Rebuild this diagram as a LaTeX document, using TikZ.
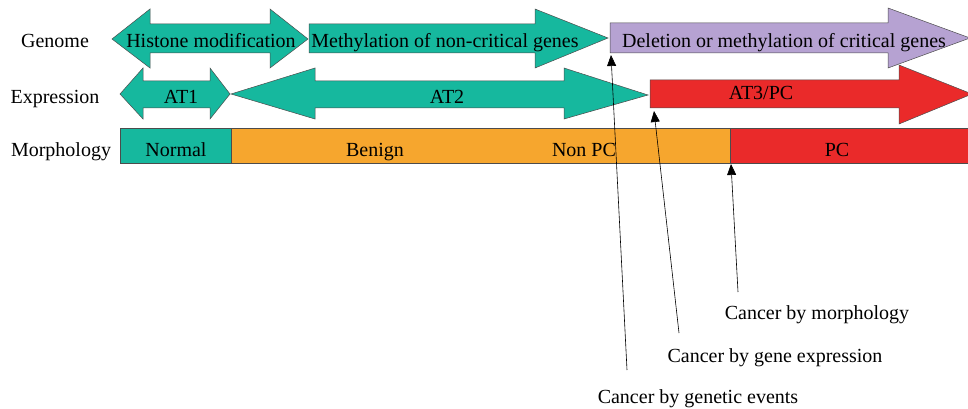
\documentclass[tikz,border=0pt]{standalone}
\usepackage{fontspec}
\setmainfont{Liberation Serif}
\usetikzlibrary{arrows.meta}
\definecolor{tealbar}{RGB}{22,184,158}
\definecolor{lilacbar}{RGB}{182,162,210}
\definecolor{redbar}{RGB}{234,42,42}
\definecolor{orangebar}{RGB}{246,166,46}
\begin{document}
\begin{tikzpicture}[x=1pt,y=-1pt,
  bar/.style={draw=black!70,line width=0.5pt},
  txt/.style={font=\fontsize{20}{22}\selectfont,inner sep=0pt,anchor=base},
  ptr/.style={-{Triangle[length=11pt,width=9pt]},line width=0.6pt}]
\useasboundingbox (0,0) rectangle (968,409);
\clip (0,0) rectangle (968,409);
%ROW NAMES
\node [txt] (genome) at (55,48) {Genome};
\node [txt] (expression) at (55,103) {Expression};
\node [txt] (morphology) at (61,156) {Morphology};
%GENOME ROW
\draw [bar,fill=tealbar] (112,39) -- (150,9) -- (150,24) -- (270,24) -- (270,9) -- (308,39)
  -- (270,68) -- (270,53) -- (150,53) -- (150,68) -- cycle;
\draw [bar,fill=tealbar] (309,24) -- (535,24) -- (535,9) -- (608,38) -- (535,68) -- (535,53)
  -- (309,53) -- cycle;
\draw [bar,fill=lilacbar] (610,23) -- (888,23) -- (888,8) -- (970,38) -- (888,68) -- (888,53)
  -- (610,53) -- cycle;
\node [txt] (histone) at (211,48) {Histone modification};
\node [txt] (noncrit) at (445,48) {Methylation of non-critical genes};
\node [txt] (crit) at (784,48) {Deletion or methylation of critical genes};
%EXPRESSION ROW
\draw [bar,fill=tealbar] (120,94) -- (143,68) -- (143,81) -- (210,81) -- (210,68) -- (230,94)
  -- (210,119) -- (210,108) -- (143,108) -- (143,119) -- cycle;
\draw [bar,fill=tealbar] (231,94) -- (315,68) -- (315,81) -- (564,81) -- (564,68) -- (648,95)
  -- (564,119) -- (564,108) -- (315,108) -- (315,119) -- cycle;
\draw [bar,fill=redbar] (650,80) -- (899,80) -- (899,65) -- (972,94) -- (899,124) -- (899,108)
  -- (650,108) -- cycle;
\node [txt] (atone) at (181,103) {AT1};
\node [txt] (attwo) at (447,103) {AT2};
\node [txt] (atthree) at (761,100) {AT3/PC};
%MORPHOLOGY ROW
\draw [bar,fill=tealbar] (120,128) rectangle (231,163);
\draw [bar,fill=orangebar] (231,128) rectangle (730,163);
\draw [bar,fill=redbar] (730,128) rectangle (970,163);
\node [txt] (normal) at (176,156) {Normal};
\node [txt] (benign) at (375,156) {Benign};
\node [txt] (nonpc) at (584,156) {Non PC};
\node [txt] (pc) at (837,156) {PC};
%CANCER CALLS
\node [txt] (bygenetic) at (698,403) {Cancer by genetic events};
\node [txt] (byexpr) at (775,362) {Cancer by gene expression};
\node [txt] (bymorph) at (817,319) {Cancer by morphology};
\coordinate (genend) at (627,370);
\coordinate (exprend) at (679,333);
\coordinate (morphend) at (738,292);
\coordinate (genhit) at (611,55);
\coordinate (exprhit) at (654,111);
\coordinate (morphhit) at (731,164);
\draw [ptr] (genend) -- (genhit);
\draw [ptr] (exprend) -- (exprhit);
\draw [ptr] (morphend) -- (morphhit);
\end{tikzpicture}
\end{document}
